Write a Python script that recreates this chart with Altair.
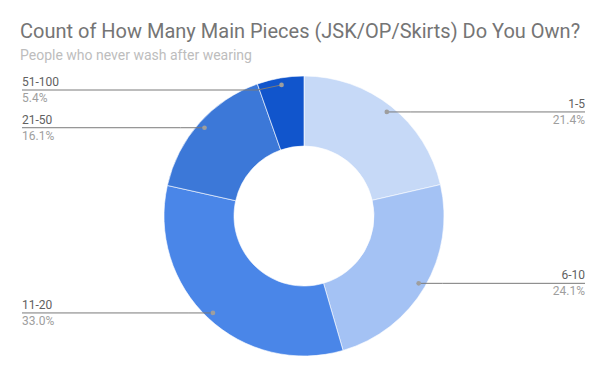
import altair as alt
import pandas as pd

categories = ["1-5", "6-10", "11-20", "21-50", "51-100"]
shares = [21.4, 24.1, 33.0, 16.1, 5.4]
colors = ["#c6d9f7", "#a4c2f4", "#4a86e8", "#3c78d8", "#1155cc"]
pct_labels = ["21.4%", "24.1%", "33.0%", "16.1%", "5.4%"]

title_text = "Count of How Many Main Pieces (JSK/OP/Skirts) Do You Own?"
subtitle_text = "People who never wash after wearing"

W, H = 593, 363
CX, CY = 296, 208
R_OUT, R_IN, R_DOT = 140, 70, 133
LEFT_X, RIGHT_X = 14, 577
MIN_LABEL_Y = 82
KINK = 24

df = pd.DataFrame({
    "cat": categories,
    "share": shares,
    "pct": pct_labels,
    "idx": list(range(len(categories))),
})

base = alt.Chart(df)

arcs = base.mark_arc(
    outerRadius=R_OUT, innerRadius=R_IN, stroke="#ffffff", strokeWidth=0.6
).encode(
    theta=alt.Theta("share:Q", stack=True),
    order=alt.Order("idx:Q"),
    color=alt.Color("cat:N", scale=alt.Scale(domain=categories, range=colors), legend=None),
    x=alt.value(CX),
    y=alt.value(CY),
)

geo = base.transform_joinaggregate(
    total="sum(share)"
).transform_window(
    cum="sum(share)", sort=[alt.SortField("idx")], frame=[None, 0]
).transform_calculate(
    mid=f"(datum.cum - datum.share/2) / datum.total * 2 * PI",
).transform_calculate(
    dotX=f"{CX} + {R_DOT} * sin(datum.mid)",
    dotY=f"{CY} - {R_DOT} * cos(datum.mid)",
).transform_calculate(
    right=f"datum.dotX > {CX}",
    labelY=f"max(datum.dotY, {MIN_LABEL_Y})",
).transform_calculate(
    labelX=f"datum.right ? {RIGHT_X} : {LEFT_X}",
    kinkX=f"datum.right ? datum.dotX + {KINK} : datum.dotX - {KINK}",
    nameY="datum.labelY - 4",
    pctY="datum.labelY + 12",
)

line_color = "#7a7a7a"

seg1 = geo.mark_rule(color=line_color, strokeWidth=1).encode(
    x=alt.X("labelX:Q", scale=None, axis=None),
    x2="kinkX:Q",
    y=alt.Y("labelY:Q", scale=None, axis=None),
    y2="labelY:Q",
)
seg2 = geo.mark_rule(color=line_color, strokeWidth=1).encode(
    x=alt.X("kinkX:Q", scale=None, axis=None),
    x2="dotX:Q",
    y=alt.Y("labelY:Q", scale=None, axis=None),
    y2="dotY:Q",
)
dots = geo.mark_circle(color="#9e9e9e", opacity=1, size=22).encode(
    x=alt.X("dotX:Q", scale=None, axis=None),
    y=alt.Y("dotY:Q", scale=None, axis=None),
)

def labels(side_right):
    align = "right" if side_right else "left"
    flt = "datum.right" if side_right else "!datum.right"
    g = geo.transform_filter(flt)
    name = g.mark_text(align=align, baseline="alphabetic", font="Roboto",
                       fontSize=12, color="#616161").encode(
        x=alt.X("labelX:Q", scale=None, axis=None),
        y=alt.Y("nameY:Q", scale=None, axis=None),
        text="cat:N",
    )
    pct = g.mark_text(align=align, baseline="alphabetic", font="Roboto",
                      fontSize=12, color="#9e9e9e").encode(
        x=alt.X("labelX:Q", scale=None, axis=None),
        y=alt.Y("pctY:Q", scale=None, axis=None),
        text="pct:N",
    )
    return name + pct

tdf = pd.DataFrame({"t": [title_text], "s": [subtitle_text]})
title = alt.Chart(tdf).mark_text(
    align="left", baseline="alphabetic", font="Roboto", fontSize=20, color="#757575"
).encode(x=alt.value(12), y=alt.value(30), text="t:N")
subtitle = alt.Chart(tdf).mark_text(
    align="left", baseline="alphabetic", font="Roboto", fontSize=14, color="#bdbdbd"
).encode(x=alt.value(12), y=alt.value(52), text="s:N")

chart = alt.layer(
    arcs, seg1, seg2, dots, labels(True), labels(False), title, subtitle
).properties(
    width=W, height=H, padding=0, autosize=alt.AutoSizeParams(type="none"),
    background="#ffffff",
).configure_view(stroke=None)

chart.save("out.html", embed_options={"renderer": "svg", "actions": False})
